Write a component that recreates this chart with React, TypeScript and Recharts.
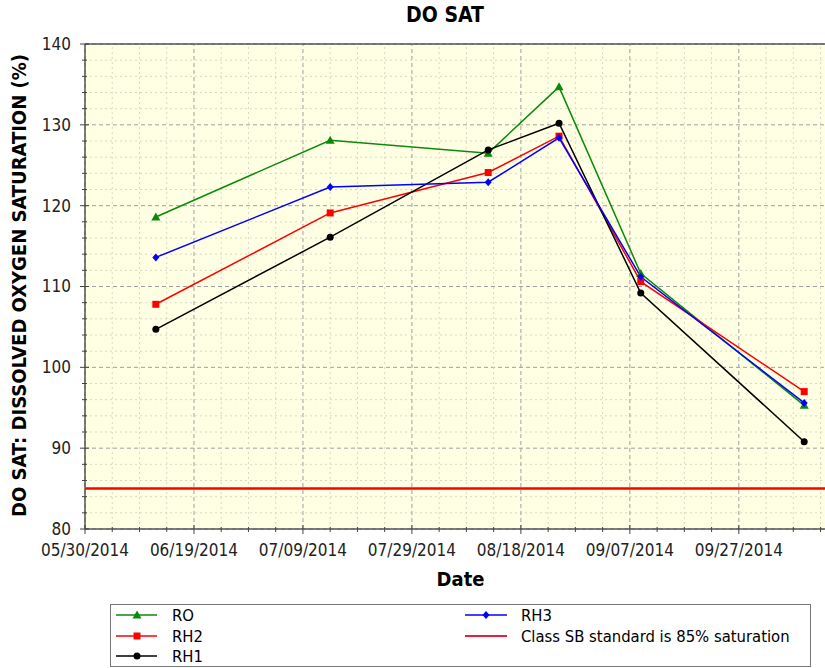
import { CartesianGrid, Label, Line, LineChart, ReferenceLine, XAxis, YAxis } from 'recharts'

const DAY = 86400000
const START = Date.UTC(2014, 4, 30)

const sampleDates = ['2014-06-12', '2014-07-14', '2014-08-12', '2014-08-25', '2014-09-09', '2014-10-09']
const roValues = [118.6, 128.1, 126.5, 134.7, 111.6, 95.3]
const rh2Values = [107.8, 119.1, 124.1, 128.6, 110.6, 97.0]
const rh1Values = [104.7, 116.1, 126.9, 130.2, 109.2, 90.8]
const rh3Values = [113.6, 122.3, 122.9, 128.4, 111.2, 95.6]
const standardValue = 85

const xDayTicks = Array.from({ length: 28 }, (_, i) => i * 5)
const yTicks = Array.from({ length: 31 }, (_, i) => 80 + i * 2)

const data = sampleDates.map((d, i) => ({
  t: Date.parse(d + 'T00:00:00Z'),
  ro: roValues[i],
  rh2: rh2Values[i],
  rh1: rh1Values[i],
  rh3: rh3Values[i],
}))

const series = [
  { key: 'ro', name: 'RO', color: '#0a8a0a', shape: 'triangle' },
  { key: 'rh2', name: 'RH2', color: '#ff0000', shape: 'square' },
  { key: 'rh1', name: 'RH1', color: '#000000', shape: 'circle' },
  { key: 'rh3', name: 'RH3', color: '#0000ff', shape: 'diamond' },
]

const FONT = '"DejaVu Sans Condensed", "DejaVu Sans", sans-serif'

function fmtDate(ms: number) {
  const d = new Date(ms)
  const mm = String(d.getUTCMonth() + 1).padStart(2, '0')
  const dd = String(d.getUTCDate()).padStart(2, '0')
  return `${mm}/${dd}/${d.getUTCFullYear()}`
}

function Marker({ shape, cx, cy, color }: any) {
  if (cx == null || cy == null) return null
  if (shape === 'triangle') return <polygon points={`${cx},${cy - 4.5} ${cx + 4.5},${cy + 3.5} ${cx - 4.5},${cy + 3.5}`} fill={color} />
  if (shape === 'square') return <rect x={cx - 3.5} y={cy - 3.5} width={7} height={7} fill={color} />
  if (shape === 'diamond') return <polygon points={`${cx},${cy - 4} ${cx + 3.5},${cy} ${cx},${cy + 4} ${cx - 3.5},${cy}`} fill={color} />
  return <circle cx={cx} cy={cy} r={3.5} fill={color} />
}

function XTick({ x, y, payload }: any) {
  const days = Math.round((payload.value - START) / DAY)
  const major = days % 20 === 0
  return (
    <g>
      <line x1={x} x2={x} y1={y - (major ? 4 : 2)} y2={y + (major ? 5 : 3)} stroke="#444" />
      {major && (
        <text x={x} y={y + 27} textAnchor="middle" fontSize={17} fill="#222">
          {fmtDate(payload.value)}
        </text>
      )}
    </g>
  )
}

function YTick({ x, y, payload }: any) {
  const major = payload.value % 10 === 0
  return (
    <g>
      <line x1={x - (major ? 5 : 3)} x2={x + (major ? 4 : 2)} y1={y} y2={y} stroke="#444" />
      {major && (
        <text x={x - 14} y={y} dy="0.35em" textAnchor="end" fontSize={17} fill="#222">
          {payload.value}
        </text>
      )}
    </g>
  )
}

function YTitle({ viewBox }: any) {
  const cy = viewBox.y + viewBox.height / 2 - 1
  return (
    <text x={19} y={cy} transform={`rotate(-90 19 ${cy})`} textAnchor="middle" dominantBaseline="central" fontSize={20} fontWeight="bold" fill="#000">
      DO SAT: DISSOLVED OXYGEN SATURATION (%)
    </text>
  )
}

function LegendBox() {
  const left = [series[0], series[1], series[2]]
  const right = [series[3]]
  const rows = [11, 32, 52]
  return (
    <svg width={701} height={63} style={{ position: 'absolute', left: 110, top: 604, fontFamily: FONT }}>
      <rect x={0.5} y={0.5} width={700} height={62} fill="#fff" stroke="#777" />
      {left.map((s, i) => (
        <g key={s.key}>
          <line x1={6} x2={47} y1={rows[i]} y2={rows[i]} stroke={s.color} strokeWidth={1.5} />
          <Marker shape={s.shape} cx={27} cy={rows[i]} color={s.color} />
          <text x={62} y={rows[i]} dy="0.35em" fontSize={16.5} fill="#000">{s.name}</text>
        </g>
      ))}
      {right.map((s, i) => (
        <g key={s.key}>
          <line x1={355} x2={397} y1={rows[i]} y2={rows[i]} stroke={s.color} strokeWidth={1.5} />
          <Marker shape={s.shape} cx={376} cy={rows[i]} color={s.color} />
          <text x={411} y={rows[i]} dy="0.35em" fontSize={16.5} fill="#000">{s.name}</text>
        </g>
      ))}
      <line x1={355} x2={397} y1={rows[1]} y2={rows[1]} stroke="#e8203a" strokeWidth={2} />
      <text x={411} y={rows[1]} dy="0.35em" fontSize={16.5} fill="#000">Class SB standard is {standardValue}% saturation</text>
    </svg>
  )
}

export default function App() {
  return (
    <div style={{ position: 'absolute', left: 0, top: 0, width: 825, height: 668, overflow: 'hidden', background: '#fff', fontFamily: FONT }}>
      <div style={{ position: 'absolute', left: 0, width: 890, top: 3, textAlign: 'center', fontSize: 21, fontWeight: 'bold', color: '#000' }}>
        DO SAT
      </div>
      <LineChart width={826} height={668} data={data} margin={{ top: 44, right: 0, left: 0, bottom: 0 }}>
        <CartesianGrid fill="#ffffe3" horizontal={false} vertical={false} />
        {yTicks.map((v) => (
          <ReferenceLine key={'gy' + v} y={v} stroke={v % 10 === 0 ? '#a0a0a0' : '#d8d8c8'} strokeDasharray={v % 10 === 0 ? '4 3' : '2 3'} />
        ))}
        {xDayTicks.map((d) => (
          <ReferenceLine key={'gx' + d} x={START + d * DAY} stroke={d % 20 === 0 ? '#a0a0a0' : '#d8d8c8'} strokeDasharray={d % 20 === 0 ? '4 3' : '2 3'} />
        ))}
        <ReferenceLine y={140} stroke="#555" strokeWidth={1.5} />
        <XAxis
          dataKey="t"
          type="number"
          scale="time"
          domain={[START, START + 136 * DAY]}
          ticks={xDayTicks.map((d) => START + d * DAY)}
          tick={<XTick />}
          tickLine={false}
          tickSize={0}
          tickMargin={0}
          axisLine={{ stroke: '#555', strokeWidth: 1.5 }}
          height={139}
          interval={0}
        >
          <Label value="Date" position="insideTop" offset={43} dx={5} fontSize={20} fontWeight="bold" fill="#000" />
        </XAxis>
        <YAxis
          type="number"
          domain={[80, 140]}
          ticks={yTicks}
          tick={<YTick />}
          tickLine={false}
          tickSize={0}
          tickMargin={0}
          axisLine={{ stroke: '#555', strokeWidth: 1.5 }}
          width={85}
          interval={0}
        >
          <Label content={<YTitle />} />
        </YAxis>
        <ReferenceLine y={standardValue} stroke="#ff0000" strokeWidth={2.5} />
        {series.map((s) => (
          <Line
            key={s.key}
            dataKey={s.key}
            name={s.name}
            stroke={s.color}
            strokeWidth={1.5}
            dot={(p: any) => <Marker key={s.key + p.index} shape={s.shape} cx={p.cx} cy={p.cy} color={s.color} />}
            isAnimationActive={false}
          />
        ))}
      </LineChart>
      <LegendBox />
    </div>
  )
}
